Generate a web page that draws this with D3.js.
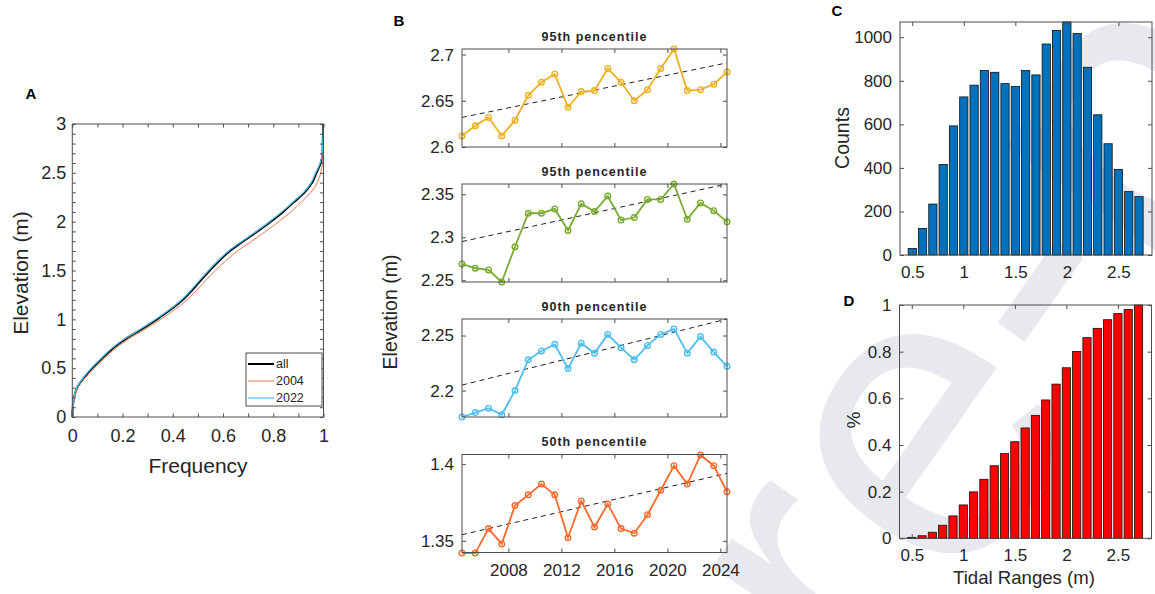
<!DOCTYPE html>
<html>
<head>
<meta charset="utf-8">
<script src="https://cdn.jsdelivr.net/npm/d3@7"></script>
<style>
  html, body { margin: 0; padding: 0; background: #fff; }
  svg { display: block; font-family: "Liberation Sans", Arial, sans-serif; }
</style>
</head>
<body>
<svg id="fig" width="1155" height="594"></svg>
<script>
// ---------- Panel A: cumulative elevation distribution ----------
const elevLevels = [0, 0.1, 0.2, 0.3, 0.4, 0.5, 0.6, 0.7, 0.8, 0.9, 1.0, 1.1, 1.2, 1.3, 1.4, 1.5,
  1.6, 1.7, 1.8, 1.9, 2.0, 2.1, 2.2, 2.3, 2.4, 2.5, 2.6, 2.7, 2.8, 2.9, 3.0];
const freqAll = [0, 0.002, 0.007, 0.019, 0.046, 0.080, 0.119, 0.160, 0.213, 0.277, 0.337, 0.392,
  0.440, 0.478, 0.512, 0.547, 0.585, 0.627, 0.681, 0.737, 0.790, 0.839, 0.882, 0.925, 0.955,
  0.972, 0.989, 0.996, 0.997, 0.998, 0.998];
const freq2004 = [0, 0.003, 0.009, 0.022, 0.051, 0.087, 0.127, 0.170, 0.225, 0.290, 0.352, 0.408,
  0.457, 0.496, 0.532, 0.569, 0.611, 0.658, 0.714, 0.770, 0.822, 0.870, 0.911, 0.950, 0.975,
  0.989, 0.996, 0.998, 0.999];
const freq2022 = [0, 0.002, 0.006, 0.017, 0.043, 0.076, 0.115, 0.156, 0.208, 0.272, 0.332, 0.387,
  0.435, 0.473, 0.507, 0.542, 0.580, 0.622, 0.676, 0.732, 0.785, 0.834, 0.878, 0.921, 0.951,
  0.969, 0.987, 0.995, 0.997, 0.998, 0.999];
const legendLabels = ["all", "2004", "2022"];

// ---------- Panel B: yearly elevation percentiles ----------
const years = [2004, 2005, 2006, 2007, 2008, 2009, 2010, 2011, 2012, 2013, 2014, 2015, 2016,
  2017, 2018, 2019, 2020, 2021, 2022, 2023, 2024];
const p95upper = [2.612, 2.623, 2.632, 2.612, 2.629, 2.656, 2.670, 2.679, 2.643, 2.660, 2.661,
  2.685, 2.670, 2.650, 2.662, 2.685, 2.706, 2.661, 2.662, 2.668, 2.681];
const p95lower = [2.269, 2.264, 2.262, 2.248, 2.289, 2.328, 2.328, 2.333, 2.308, 2.339, 2.330,
  2.348, 2.320, 2.323, 2.344, 2.344, 2.362, 2.321, 2.340, 2.331, 2.318];
const p90 = [2.176, 2.180, 2.184, 2.178, 2.200, 2.228, 2.236, 2.242, 2.220, 2.243, 2.234,
  2.251, 2.239, 2.228, 2.241, 2.251, 2.256, 2.234, 2.249, 2.235, 2.222];
const p50 = [1.342, 1.342, 1.358, 1.348, 1.373, 1.380, 1.387, 1.380, 1.352, 1.376, 1.359,
  1.374, 1.358, 1.355, 1.367, 1.383, 1.399, 1.387, 1.406, 1.399, 1.382];
const panelTitles = ["95th pencentile", "95th pencentile", "90th pencentile", "50th pencentile"];
const trendStart = [2.632, 2.295, 2.205, 1.354];
const trendEnd = [2.691, 2.362, 2.265, 1.394];
const yLimits = [[2.6, 2.706], [2.248, 2.362], [2.176, 2.265], [1.3424, 1.4063]];
const yTickVals = [[2.6, 2.65, 2.7], [2.25, 2.3, 2.35], [2.2, 2.25], [1.35, 1.4]];
const yearTicks = [2008, 2012, 2016, 2020, 2024];
const lineColors = ["#EDB120", "#77AC30", "#4DBEEE", "#FA6A2C"];

// ---------- Panels C and D: tidal range distribution ----------
const rangeBins = [0.5, 0.6, 0.7, 0.8, 0.9, 1.0, 1.1, 1.2, 1.3, 1.4, 1.5, 1.6, 1.7, 1.8, 1.9,
  2.0, 2.1, 2.2, 2.3, 2.4, 2.5, 2.6, 2.7];
const counts = [30, 122, 234, 416, 593, 726, 780, 847, 839, 787, 774, 847, 827, 969, 1031,
  1070, 1017, 862, 644, 511, 393, 291, 268];
const cumShare = [0.004, 0.011, 0.026, 0.056, 0.096, 0.143, 0.199, 0.253, 0.311, 0.363, 0.414,
  0.473, 0.527, 0.593, 0.661, 0.731, 0.801, 0.860, 0.900, 0.937, 0.963, 0.981, 1.0];
const rangeTicks = [0.5, 1, 1.5, 2, 2.5];

// ---------- drawing helpers ----------
const svg = d3.select("#fig");
const AXC = "#4d4d4d", TXT = "#262626";
const FONT = "Liberation Sans, Arial, sans-serif";

// faint diagonal watermark behind the figure; the word "Pre" starts at the anchor point
const mark = svg.append("text")
  .attr("transform", "translate(717,947) rotate(-55)")
  .attr("font-family", FONT).attr("font-size", 420)
  .attr("fill", "#e8e9ee")
  .text("Journal Pre-proof");
mark.attr("x", -mark.node().getSubStringLength(0, 8));

function styleAxis(g, size, showLabels) {
  g.select(".domain").remove();
  g.selectAll(".tick line").attr("stroke", AXC).attr("stroke-width", 1);
  g.attr("font-family", FONT).attr("font-size", size);
  g.selectAll(".tick text").attr("fill", TXT);
  if (!showLabels) g.selectAll(".tick text").remove();
}

// Inside ticks on all four sides, with labels only on the requested sides
function axesBox(g, x, y, opt) {
  const [x0, x1] = x.range(), [y0, y1] = y.range();
  const w = x1 - x0, h = y0 - y1;
  const tl = opt.tickLen || 4;
  const xt = opt.xTicks, yt = opt.yTicks;
  g.append("g").attr("transform", `translate(0,${y0})`)
    .call(d3.axisBottom(x).tickValues(xt).tickSizeInner(-tl).tickSizeOuter(0)
      .tickPadding(opt.xPad).tickFormat(opt.xFmt || null))
    .call(a => styleAxis(a, opt.fs, opt.xLabels !== false));
  g.append("g").attr("transform", `translate(0,${y1})`)
    .call(d3.axisTop(x).tickValues(xt).tickSizeInner(-tl).tickSizeOuter(0))
    .call(a => styleAxis(a, opt.fs, false));
  g.append("g").attr("transform", `translate(${x0},0)`)
    .call(d3.axisLeft(y).tickValues(yt).tickSizeInner(-tl).tickSizeOuter(0)
      .tickPadding(opt.yPad).tickFormat(opt.yFmt || null))
    .call(a => styleAxis(a, opt.fs, opt.yLabels !== false));
  g.append("g").attr("transform", `translate(${x1},0)`)
    .call(d3.axisRight(y).tickValues(yt).tickSizeInner(-tl).tickSizeOuter(0))
    .call(a => styleAxis(a, opt.fs, false));
  if (opt.xMinor) {
    g.append("g").attr("transform", `translate(0,${y0})`)
      .call(d3.axisBottom(x).tickValues(opt.xMinor).tickSizeInner(-tl).tickSizeOuter(0).tickFormat(""))
      .call(a => styleAxis(a, opt.fs, false));
    g.append("g").attr("transform", `translate(0,${y1})`)
      .call(d3.axisTop(x).tickValues(opt.xMinor).tickSizeInner(-tl).tickSizeOuter(0).tickFormat(""))
      .call(a => styleAxis(a, opt.fs, false));
  }
  if (opt.yMinor) {
    g.append("g").attr("transform", `translate(${x0},0)`)
      .call(d3.axisLeft(y).tickValues(opt.yMinor).tickSizeInner(-tl).tickSizeOuter(0).tickFormat(""))
      .call(a => styleAxis(a, opt.fs, false));
    g.append("g").attr("transform", `translate(${x1},0)`)
      .call(d3.axisRight(y).tickValues(opt.yMinor).tickSizeInner(-tl).tickSizeOuter(0).tickFormat(""))
      .call(a => styleAxis(a, opt.fs, false));
  }
  g.append("rect").attr("x", x0).attr("y", y1).attr("width", w).attr("height", h)
    .attr("fill", "none").attr("stroke", AXC).attr("stroke-width", 1);
}

function label(text, x, y, size, opts = {}) {
  const t = svg.append("text")
    .attr("x", x).attr("y", y)
    .attr("font-family", FONT).attr("font-size", size)
    .attr("fill", opts.fill || TXT)
    .attr("text-anchor", "middle").attr("dominant-baseline", "central")
    .attr("font-weight", opts.bold ? "bold" : null)
    .text(text);
  if (opts.rotate) t.attr("transform", `rotate(${opts.rotate},${x},${y})`);
  if (opts.spacing) t.attr("letter-spacing", opts.spacing);
  return t;
}

const numFmt = d => String(+d.toFixed(2));

// ---------- Panel A ----------
{
  const g = svg.append("g");
  const x = d3.scaleLinear().domain([0, 1]).range([72.3, 323.5]);
  const y = d3.scaleLinear().domain([0, 3]).range([417, 124]);
  const line = d3.line().x(d => x(d[0])).y(d => y(d[1])).curve(d3.curveMonotoneY);
  const series = [
    { f: freqAll, color: "#000000", w: 2 },
    { f: freq2004, color: "#E27A52", w: 1 },
    { f: freq2022, color: "#4DBEEE", w: 1.2 }
  ];
  series.forEach(s => {
    g.append("path")
      .datum(s.f.map((v, i) => [v, elevLevels[i]]))
      .attr("d", line).attr("fill", "none")
      .attr("stroke", s.color).attr("stroke-width", s.w);
  });
  axesBox(g, x, y, {
    xTicks: [0, 0.2, 0.4, 0.6, 0.8, 1], yTicks: [0, 0.5, 1, 1.5, 2, 2.5, 3],
    xMinor: [0.1, 0.3, 0.5, 0.7, 0.9],
    yMinor: d3.range(1, 30).filter(i => i % 5 !== 0).map(i => i / 10),
    fs: 18, xPad: 12, yPad: 6, xFmt: numFmt, yFmt: numFmt, tickLen: 3.5
  });
  // legend
  const lg = g.append("g").attr("transform", "translate(246,353)");
  lg.append("rect").attr("width", 76).attr("height", 53)
    .attr("fill", "#fff").attr("stroke", AXC).attr("stroke-width", 1);
  series.forEach((s, i) => {
    const yy = 11 + i * 17;
    lg.append("line").attr("x1", 2).attr("x2", 28).attr("y1", yy).attr("y2", yy)
      .attr("stroke", s.color).attr("stroke-width", s.w);
    lg.append("text").attr("x", 30).attr("y", yy).attr("dominant-baseline", "central")
      .attr("font-family", FONT).attr("font-size", 12.5).attr("fill", TXT)
      .text(legendLabels[i]);
  });
  label("Elevation (m)", 20, 273, 21, { rotate: -90 });
  label("Frequency", 198, 465, 21);
  label("A", 31, 93, 15, { bold: true, fill: "#000" });
}

// ---------- Panel B ----------
{
  const bSeries = [p95upper, p95lower, p90, p50];
  const tops = [49, 184, 319, 454.5];
  const x = d3.scaleLinear().domain([2004.5, 2024.5]).range([462, 727]);
  bSeries.forEach((vals, k) => {
    const g = svg.append("g");
    const y = d3.scaleLinear().domain(yLimits[k]).range([tops[k] + 98, tops[k]]);
    // linear trend
    g.append("line")
      .attr("x1", x(years[0] + 0.5)).attr("x2", x(years[years.length - 1] + 0.5))
      .attr("y1", y(trendStart[k])).attr("y2", y(trendEnd[k]))
      .attr("stroke", "#222").attr("stroke-width", 1).attr("stroke-dasharray", "5,4");
    const pts = vals.map((v, i) => [years[i] + 0.5, v]);
    g.append("path").datum(pts)
      .attr("d", d3.line().x(d => x(d[0])).y(d => y(d[1])))
      .attr("fill", "none").attr("stroke", lineColors[k]).attr("stroke-width", 1.8);
    g.selectAll("circle").data(pts).join("circle")
      .attr("cx", d => x(d[0])).attr("cy", d => y(d[1])).attr("r", 2.8)
      .attr("fill", "none").attr("stroke", lineColors[k]).attr("stroke-width", 1.4);
    axesBox(g, x, y, {
      xTicks: yearTicks, yTicks: yTickVals[k], fs: 17,
      xPad: 11, yPad: 8, xLabels: k === 3, yFmt: numFmt, xFmt: d3.format("d"), tickLen: 4
    });
    label(panelTitles[k], 594.5, tops[k] - 12.5, 12.5, { bold: true, spacing: 1 });
  });
  label("Elevation (m)", 390, 312, 19.5, { rotate: -90 });
  label("B", 399, 20, 15, { bold: true, fill: "#000" });
}

// ---------- Panel C ----------
const xRange = [0.381, 2.826];
const barW = 0.08;
{
  const g = svg.append("g");
  const x = d3.scaleLinear().domain(xRange).range([900, 1152]);
  const y = d3.scaleLinear().domain([0, 1070]).range([255, 22]);
  g.selectAll("rect.bar").data(rangeBins).join("rect").attr("class", "bar")
    .attr("x", d => x(d - barW / 2)).attr("width", d => x(d + barW / 2) - x(d - barW / 2))
    .attr("y", (d, i) => y(counts[i])).attr("height", (d, i) => y(0) - y(counts[i]))
    .attr("fill", "#0072BD").attr("stroke", "#111").attr("stroke-width", 0.8);
  axesBox(g, x, y, {
    xTicks: rangeTicks, yTicks: [0, 200, 400, 600, 800, 1000], fs: 17,
    xPad: 11, yPad: 8, xFmt: numFmt, yFmt: d3.format("d"), tickLen: 4
  });
  label("Counts", 842, 138, 19.5, { rotate: -90 });
  label("C", 837, 10, 15, { bold: true, fill: "#000" });
}

// ---------- Panel D ----------
{
  const g = svg.append("g");
  const x = d3.scaleLinear().domain(xRange).range([899.5, 1151.5]);
  const y = d3.scaleLinear().domain([0, 1]).range([538.3, 305]);
  g.selectAll("rect.bar").data(rangeBins).join("rect").attr("class", "bar")
    .attr("x", d => x(d - barW / 2)).attr("width", d => x(d + barW / 2) - x(d - barW / 2))
    .attr("y", (d, i) => y(cumShare[i])).attr("height", (d, i) => y(0) - y(cumShare[i]))
    .attr("fill", "#FF0000").attr("stroke", "#111").attr("stroke-width", 0.8);
  axesBox(g, x, y, {
    xTicks: rangeTicks, yTicks: [0, 0.2, 0.4, 0.6, 0.8, 1], fs: 17,
    xPad: 11, yPad: 8, xFmt: numFmt, yFmt: numFmt, tickLen: 4
  });
  label("%", 853, 420, 19, { rotate: -90 });
  label("Tidal Ranges (m)", 1024, 577, 18.6);
  label("D", 849, 300, 15, { bold: true, fill: "#000" });
}
</script>
</body>
</html>
